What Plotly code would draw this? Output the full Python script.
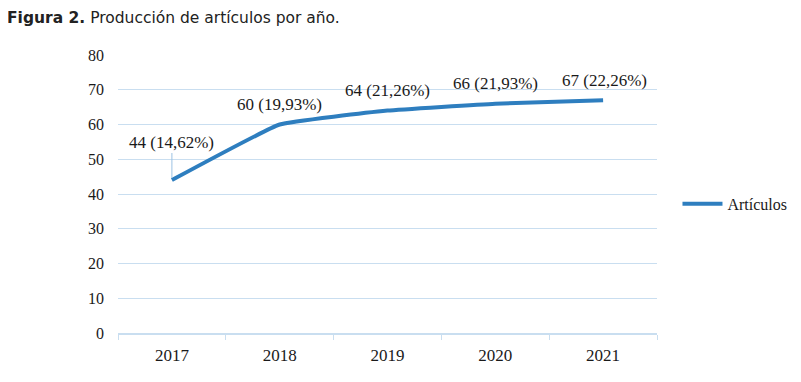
import plotly.graph_objects as go

years = ["2017", "2018", "2019", "2020", "2021"]
articulos = [44, 60, 64, 66, 67]
pct_labels = ["44 (14,62%)", "60 (19,93%)", "64 (21,26%)", "66 (21,93%)", "67 (22,26%)"]
y_ticks = [0, 10, 20, 30, 40, 50, 60, 70, 80]

serif = "Liberation Serif, DejaVu Serif, serif"
grid_c = "#c9def0"
line_c = "#2e7ebf"

fig = go.Figure()
fig.add_trace(go.Scatter(
    x=years, y=articulos, mode="lines", name="Artículos",
    line=dict(color=line_c, width=4, shape="spline", smoothing=0.3),
))

# label offsets (pixels) relative to points
offsets = [(0, 38), (0, 20), (0, 20), (0, 20), (1, 20)]
for i, (v, t, (dx, dy)) in enumerate(zip(articulos, pct_labels, offsets)):
    fig.add_annotation(x=i, y=v, xref="x", yref="y", text=t, showarrow=False,
                       xshift=dx, yshift=dy,
                       font=dict(family=serif, size=17, color="#1a1a1a"))

# leader line for first label
fig.add_shape(type="line", x0=0, x1=0, y0=articulos[0] + 0.6, y1=51.8,
              xref="x", yref="y", line=dict(color="#9cc3e4", width=1))

fig.add_annotation(xref="paper", yref="paper", x=-113/539, y=1 + (47 - 10)/278,
                   xanchor="left", yanchor="middle", showarrow=False,
                   text="<b>Figura 2.</b> Producción de artículos por año.",
                   font=dict(family="DejaVu Sans, Verdana, sans-serif", size=15.5, color="#222"))

fig.update_layout(
    width=801, height=382,
    margin=dict(l=110, r=152, t=47, b=57),
    paper_bgcolor="white", plot_bgcolor="white",
    showlegend=True,
    legend=dict(x=1.038, y=0.465, xanchor="left", yanchor="middle",
                font=dict(family=serif, size=16, color="#1a1a1a"),
                bgcolor="rgba(0,0,0,0)", itemwidth=40),
    xaxis=dict(type="category", tickson="boundaries", ticks="outside", ticklen=5,
               tickcolor=grid_c, showline=True, linecolor=grid_c, linewidth=2,
               showgrid=False, tickfont=dict(family=serif, size=17, color="#1a1a1a"),
               ticklabelstandoff=6, range=[-0.5, 4.5]),
    yaxis=dict(range=[0, 80], tickvals=y_ticks, showgrid=True, gridcolor=grid_c,
               gridwidth=1, zeroline=False, showline=False, ticks="",
               ticklabelstandoff=13,
               tickfont=dict(family=serif, size=16, color="#1a1a1a")),
)

fig.write_html("out.html")
